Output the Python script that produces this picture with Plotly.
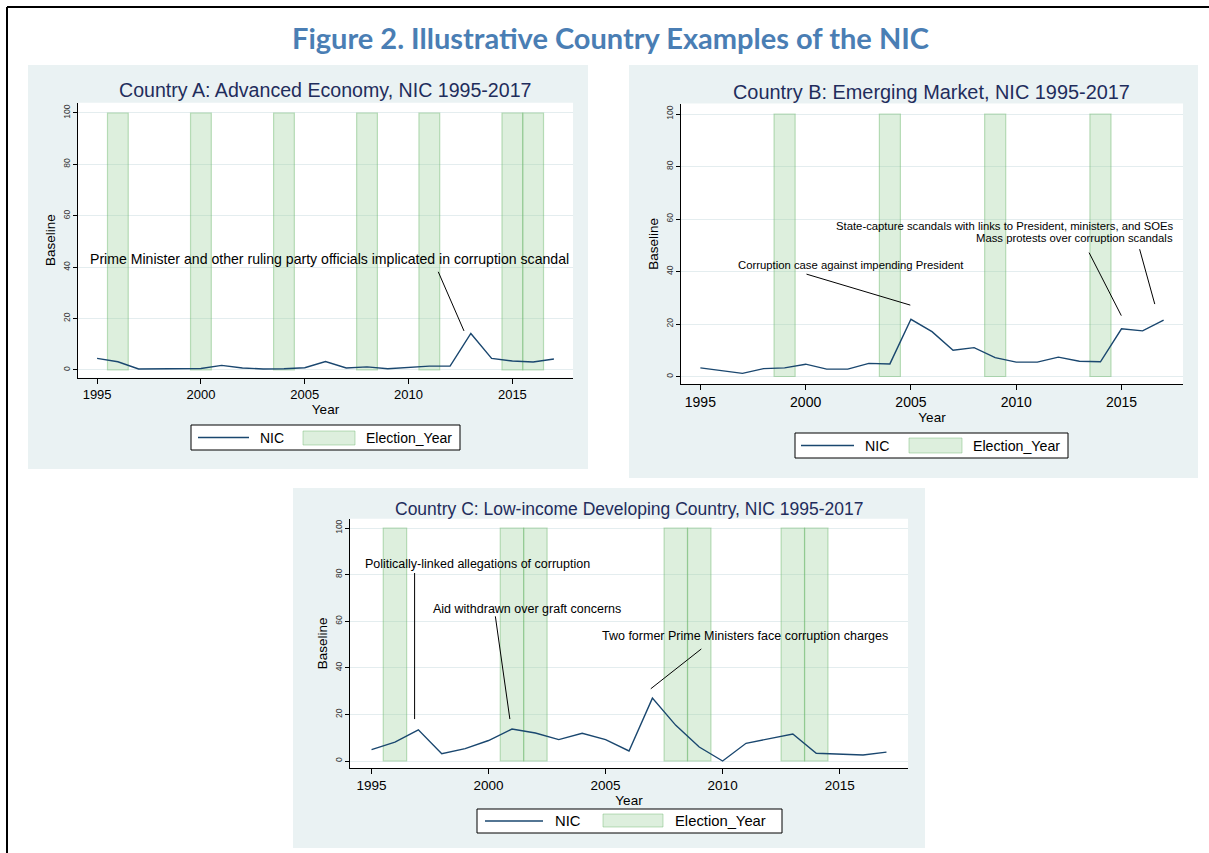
import plotly.graph_objects as go

W, H = 1209, 853

# ---- data -------------------------------------------------------------
years = list(range(1995, 2018))

nic_a = [4.5, 3.2, 0.4, 0.5, 0.5, 0.6, 1.8, 0.8, 0.4, 0.5, 0.9, 3.3,
         0.8, 1.2, 0.5, 1.1, 1.5, 1.5, 14.2, 4.5, 3.5, 3.1, 4.3]
nic_b = [3.3, 2.3, 1.2, 3.0, 3.3, 4.7, 2.8, 2.8, 5.0, 4.8, 21.8, 17.1,
         10.0, 11.0, 7.2, 5.5, 5.5, 7.4, 5.8, 5.6, 18.2, 17.4, 21.5]
nic_c = [4.9, 8.1, 13.4, 3.1, 5.3, 8.8, 13.7, 12.0, 9.2, 11.9, 9.2, 4.3,
         27.0, 15.3, 6.0, 0.0, 7.6, 9.7, 11.6, 3.3, 3.1, 2.6, 3.8]

election_years_a = [1996, 2000, 2004, 2008, 2011, 2015, 2016]
election_years_b = [1999, 2004, 2009, 2014]
election_years_c = [1996, 2001, 2002, 2008, 2009, 2013, 2014]
election_value = 100  # election-year band runs over the whole 0-100 scale

x_ticks = [1995, 2000, 2005, 2010, 2015]
y_ticks = [0, 20, 40, 60, 80, 100]

title_main = "Figure 2. Illustrative Country Examples of the NIC"
title_a = "Country A: Advanced Economy, NIC 1995-2017"
title_b = "Country B: Emerging Market, NIC 1995-2017"
title_c = "Country C: Low-income Developing Country, NIC 1995-2017"

notes_a = ["Prime Minister and other ruling party officials implicated in corruption scandal"]
notes_b = ["Corruption case against impending President",
           "State-capture scandals with links to President, ministers, and SOEs",
           "Mass protests over corruption scandals"]
notes_c = ["Politically-linked allegations of corruption",
           "Aid withdrawn over graft concerns",
           "Two former Prime Ministers face corruption charges"]

# ---- styling ----------------------------------------------------------
FONT = "Liberation Sans, Arial, sans-serif"
NAVY = "#1a476f"
TITLE_NAVY = "#1f2d5c"
PANEL_BG = "#eaf2f3"
GRID = "#e4edef"
BAND_FILL = "rgba(148, 204, 148, 0.32)"
BAND_EDGE = "rgba(110, 185, 110, 0.45)"
X_RANGE = [1994.08, 2017.92]
Y_RANGE = [-3, 104]


def px_x(p):
    return p / W


def px_y(p):
    return 1 - p / H


panels = [
    dict(title=title_a, nic=nic_a, elect=election_years_a, notes=notes_a,
         box=(28, 65, 588, 469), plot=(78, 102.7, 573, 377.7),
         title_xy=(325, 90), title_size=19.6, tick_size=13, note_size=14.1,
         note_pos=[(2006.2, 43.1, "center")],
         pointers=[(2011.43, 38.2, 2012.67, 15.2)],
         legend=dict(box=(191, 425, 460, 450), line=(198, 249), patch=(303, 355, 431, 445),
                     nic_x=258, ey_x=364, size=14)),
    dict(title=title_b, nic=nic_b, elect=election_years_b, notes=notes_b,
         box=(629, 65, 1198, 478), plot=(681, 103.5, 1183, 384.4),
         title_xy=(931, 92), title_size=19.9, tick_size=14, note_size=11.3,
         note_pos=[(2002.15, 42.5, "center"), (2017.57, 57.2, "right"), (2017.52, 52.8, "right")],
         pointers=[(2000.04, 39.0, 2004.97, 27.2), (2013.46, 47.2, 2014.99, 23.2),
                   (2015.86, 48.5, 2016.58, 27.6)],
         legend=dict(box=(795, 433, 1068, 458), line=(801, 854), patch=(909, 962, 438, 453),
                     nic_x=863, ey_x=971, size=14.2)),
    dict(title=title_c, nic=nic_c, elect=election_years_c, notes=notes_c,
         box=(293, 488, 925, 848), plot=(350, 518.7, 908, 768),
         title_xy=(629, 509), title_size=17.5, tick_size=13.5, note_size=12.5,
         note_pos=[(1999.51, 84.4, "center"), (2001.64, 65.1, "center"), (2010.97, 53.5, "center")],
         pointers=[(1996.84, 80.7, 1996.84, 18.0), (2000.29, 62.1, 2000.91, 18.0),
                   (2009.09, 48.1, 2006.93, 31.0)],
         legend=dict(box=(477, 809, 782, 833), line=(485, 543), patch=(603, 663, 814, 827),
                     nic_x=553, ey_x=673, size=14.8)),
]

fig = go.Figure()
shapes = []
annotations = []

# page frame (top and left rules)
shapes.append(dict(type="line", xref="paper", yref="paper", x0=px_x(7), x1=1,
                   y0=px_y(7), y1=px_y(7), line=dict(color="black", width=2)))
shapes.append(dict(type="line", xref="paper", yref="paper", x0=px_x(7), x1=px_x(7),
                   y0=px_y(7), y1=0, line=dict(color="black", width=2)))

annotations.append(dict(text="<b>" + title_main + "</b>", xref="paper", yref="paper",
                        x=px_x(610), y=px_y(37), xanchor="center", yanchor="middle",
                        showarrow=False, font=dict(family="Lato, Open Sans, sans-serif",
                                                   size=29, color="#4a7eb4")))

layout_axes = {}
for i, p in enumerate(panels, start=1):
    sfx = "" if i == 1 else str(i)
    xa, ya = "x" + sfx, "y" + sfx
    bx0, by0, bx1, by1 = p["box"]
    px0, py0, px1, py1 = p["plot"]

    # panel background and white plot region
    shapes.append(dict(type="rect", xref="paper", yref="paper", layer="below",
                       x0=px_x(bx0), x1=px_x(bx1), y0=px_y(by1), y1=px_y(by0),
                       fillcolor=PANEL_BG, line=dict(width=0)))
    shapes.append(dict(type="rect", xref="paper", yref="paper", layer="below",
                       x0=px_x(px0), x1=px_x(px1), y0=px_y(py1), y1=px_y(py0),
                       fillcolor="white", line=dict(width=0)))

    fig.add_trace(go.Bar(x=p["elect"], y=[election_value] * len(p["elect"]), width=1,
                         name="Election_Year", xaxis=xa, yaxis=ya, showlegend=False,
                         marker=dict(color=BAND_FILL, line=dict(color=BAND_EDGE, width=1.2)),
                         hoverinfo="skip"))
    fig.add_trace(go.Scatter(x=years, y=p["nic"], mode="lines", name="NIC",
                             xaxis=xa, yaxis=ya, showlegend=False,
                             line=dict(color=NAVY, width=1.4)))

    layout_axes["xaxis" + sfx] = dict(
        domain=[px_x(px0), px_x(px1)], range=X_RANGE, anchor=ya,
        tickvals=x_ticks, ticks="outside", ticklen=5, tickcolor="black",
        showline=True, linecolor="black", linewidth=1, showgrid=False, zeroline=False,
        tickfont=dict(family=FONT, size=p["tick_size"], color="black"),
        title=dict(text="Year", standoff=0, font=dict(family=FONT, size=13.5, color="black")))
    layout_axes["yaxis" + sfx] = dict(
        domain=[px_y(py1), px_y(py0)], range=Y_RANGE, anchor=xa,
        tickvals=y_ticks, tickangle=-90, ticks="outside", ticklen=4, tickcolor="black",
        showline=True, linecolor="black", linewidth=1, showgrid=True, gridcolor=GRID,
        gridwidth=1, zeroline=False,
        tickfont=dict(family=FONT, size=8.5, color="#333333"),
        title=dict(text="Baseline", standoff=2, font=dict(family=FONT, size=13.5, color="black")))

    # panel title
    tx, ty = p["title_xy"]
    annotations.append(dict(text=p["title"], xref="paper", yref="paper", x=px_x(tx), y=px_y(ty),
                            xanchor="center", yanchor="middle", showarrow=False,
                            font=dict(family=FONT, size=p["title_size"], color=TITLE_NAVY)))

    # event notes with pointer lines
    for text, (nx, ny, anchor) in zip(p["notes"], p["note_pos"]):
        annotations.append(dict(text=text, xref=xa, yref=ya, x=nx, y=ny, xanchor=anchor,
                                yanchor="middle", showarrow=False,
                                font=dict(family=FONT, size=p["note_size"], color="black")))
    for (x0, y0, x1, y1) in p["pointers"]:
        shapes.append(dict(type="line", xref=xa, yref=ya, x0=x0, y0=y0, x1=x1, y1=y1,
                           line=dict(color="black", width=1)))

    # legend key
    lg = p["legend"]
    lx0, ly0, lx1, ly1 = lg["box"]
    ymid = (ly0 + ly1) / 2
    shapes.append(dict(type="rect", xref="paper", yref="paper", x0=px_x(lx0), x1=px_x(lx1),
                       y0=px_y(ly1), y1=px_y(ly0), fillcolor="white",
                       line=dict(color="black", width=1)))
    shapes.append(dict(type="line", xref="paper", yref="paper", x0=px_x(lg["line"][0]),
                       x1=px_x(lg["line"][1]), y0=px_y(ymid), y1=px_y(ymid),
                       line=dict(color=NAVY, width=1.4)))
    qx0, qx1, qy0, qy1 = lg["patch"]
    shapes.append(dict(type="rect", xref="paper", yref="paper", x0=px_x(qx0), x1=px_x(qx1),
                       y0=px_y(qy1), y1=px_y(qy0), fillcolor=BAND_FILL,
                       line=dict(color=BAND_EDGE, width=1)))
    annotations.append(dict(text="NIC", xref="paper", yref="paper", x=px_x(lg["nic_x"]),
                            y=px_y(ymid), xanchor="left", yanchor="middle", showarrow=False,
                            font=dict(family=FONT, size=lg["size"], color="black")))
    annotations.append(dict(text="Election_Year", xref="paper", yref="paper", x=px_x(lg["ey_x"]),
                            y=px_y(ymid), xanchor="left", yanchor="middle", showarrow=False,
                            font=dict(family=FONT, size=lg["size"], color="black")))

fig.update_layout(
    width=W, height=H,
    margin=dict(l=0, r=0, t=0, b=0),
    paper_bgcolor="white", plot_bgcolor="white",
    showlegend=False, barmode="overlay",
    shapes=shapes, annotations=annotations,
    **layout_axes,
)

fig.write_html("out.html", config=dict(displayModeBar=False))
